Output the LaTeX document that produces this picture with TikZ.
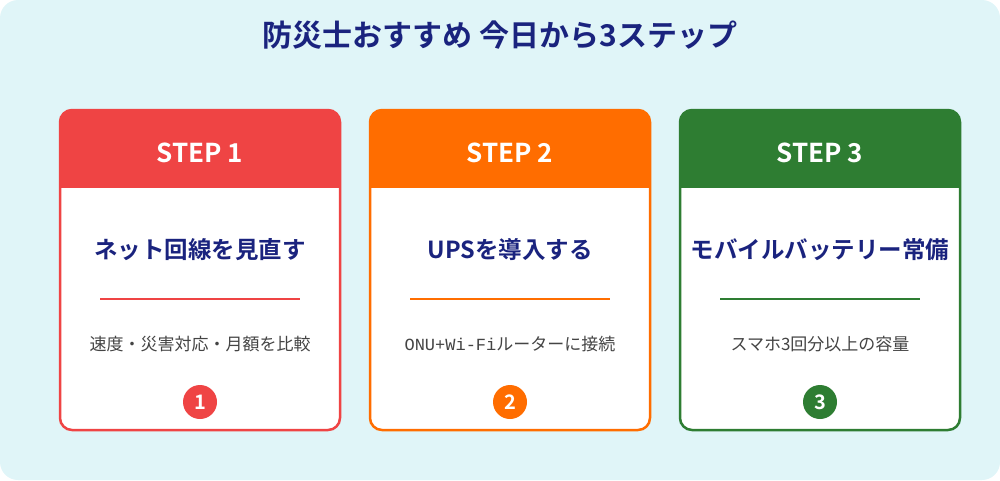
\documentclass[tikz,border=0pt]{standalone}
\usepackage{fontspec}
\setmainfont{Noto Sans CJK JP}
\newfontfamily\cjkb{Noto Sans CJK JP Bold}
\newfontfamily\monof{Liberation Mono}
\definecolor{bg}{HTML}{E0F5F8}
\definecolor{navy}{HTML}{1A237E}
\definecolor{cA}{HTML}{EF4444}
\definecolor{cB}{HTML}{FF6D00}
\definecolor{cC}{HTML}{2E7D32}
\definecolor{gry}{HTML}{444444}
\tikzset{x=1pt,y=-1pt,
 ttl/.style={font=\cjkb\fontsize{23.5}{27}\selectfont,text=navy},
 stp/.style={font=\cjkb\fontsize{26}{30}\selectfont,text=white},
 sub/.style={font=\fontsize{17}{20}\selectfont,text=gry},
 num/.style={circle,minimum size=34pt,inner sep=0pt,text=white,font=\cjkb\fontsize{20}{22}\selectfont}}
\newcommand{\card}[6]{%
 \begin{scope}
 \clip[rounded corners=12pt] (#1,110) rectangle ++(280,320);
 \fill[white] (#1,110) rectangle ++(280,320);
 \fill[#2] (#1,110) rectangle ++(280,78);
 \end{scope}
 \draw[#2,line width=2.5pt,rounded corners=12pt] (#1,110) rectangle ++(280,320);
 \node[stp] (s#6) at (#1+140,153) {#3};
 \node[ttl] (t#6) at (#1+140,250) {#4};
 \draw[#2,line width=1.5pt] (#1+40,299) -- (#1+240,299);
 \node[sub] (u#6) at (#1+140,344) {#5};
 \node[num,fill=#2] (n#6) at (#1+140,402) {#6};}
\begin{document}
\begin{tikzpicture}
\useasboundingbox (0,0) rectangle (1000,480);
\fill[bg,rounded corners=18pt] (0,0) rectangle (1000,480);
\node[font=\cjkb\fontsize{30}{34}\selectfont,text=navy] (title) at (500,35) {防災士おすすめ 今日から3ステップ};
\card{60}{cA}{STEP 1}{ネット回線を見直す}{速度・災害対応・月額を比較}{1}
\card{370}{cB}{STEP 2}{UPSを導入する}{{\monof ONU+Wi-Fi}ルーターに接続}{2}
\card{680}{cC}{STEP 3}{モバイルバッテリー常備}{スマホ3回分以上の容量}{3}
\end{tikzpicture}
\end{document}
